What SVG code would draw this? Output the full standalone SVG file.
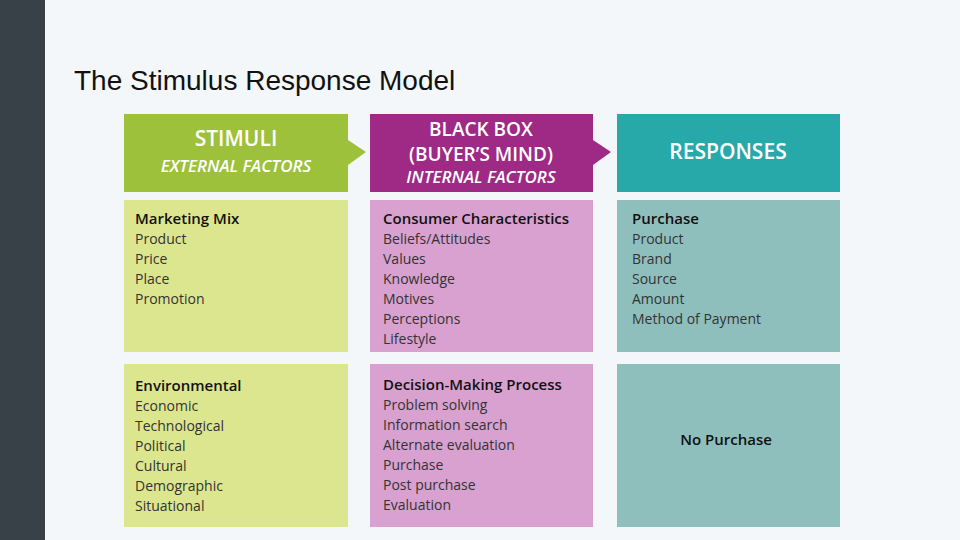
<svg xmlns="http://www.w3.org/2000/svg" width="960" height="540" viewBox="0 0 960 540">
<style>
.h{font-family:"Open Sans","Liberation Sans",sans-serif;font-weight:600;fill:#fff;text-anchor:middle}
.hi{font-style:italic;font-size:17px}
.t{font-family:"Open Sans","Liberation Sans",sans-serif;font-size:14px;fill:#333}
.b{font-weight:600;font-size:15px;fill:#111}
</style>
<rect width="960" height="540" fill="#f3f7fa"/>
<rect width="45" height="540" fill="#394148"/>
<text x="74" y="90" font-family="Liberation Sans,Arial,sans-serif" font-size="28" fill="#111">The Stimulus Response Model</text>
<g id="stimuli">
<path d="M124 114H348V140L366 152L348 165V192H124Z" fill="#9dc13a"/>
<text class="h" x="236" y="146" font-size="21">STIMULI</text>
<text class="h hi" x="236" y="172">EXTERNAL FACTORS</text>
</g>
<g id="blackbox">
<path d="M370 114H593V140L611 152L593 165V192H370Z" fill="#9e2a86"/>
<text class="h" x="481" y="136" font-size="19">BLACK BOX</text>
<text class="h" x="481" y="161" font-size="19">(BUYER’S MIND)</text>
<text class="h hi" x="481" y="183">INTERNAL FACTORS</text>
</g>
<g id="responses">
<rect x="617" y="114" width="223" height="78" fill="#27a8a9"/>
<text class="h" x="728" y="159" font-size="21">RESPONSES</text>
</g>
<g id="marketing">
<rect x="124" y="200" width="224" height="152" fill="#dce68f"/>
<text class="t" x="135" y="224"><tspan class="b">Marketing Mix</tspan><tspan x="135" dy="20">Product</tspan><tspan x="135" dy="20">Price</tspan><tspan x="135" dy="20">Place</tspan><tspan x="135" dy="20">Promotion</tspan></text>
</g>
<g id="consumer">
<rect x="370" y="200" width="223" height="152" fill="#d8a1d0"/>
<text class="t" x="383" y="224"><tspan class="b">Consumer Characteristics</tspan><tspan x="383" dy="20">Beliefs/Attitudes</tspan><tspan x="383" dy="20">Values</tspan><tspan x="383" dy="20">Knowledge</tspan><tspan x="383" dy="20">Motives</tspan><tspan x="383" dy="20">Perceptions</tspan><tspan x="383" dy="20">Lifestyle</tspan></text>
</g>
<g id="purchase">
<rect x="617" y="200" width="223" height="152" fill="#8fbfbd"/>
<text class="t" x="632" y="224"><tspan class="b">Purchase</tspan><tspan x="632" dy="20">Product</tspan><tspan x="632" dy="20">Brand</tspan><tspan x="632" dy="20">Source</tspan><tspan x="632" dy="20">Amount</tspan><tspan x="632" dy="20">Method of Payment</tspan></text>
</g>
<g id="environmental">
<rect x="124" y="364" width="224" height="163" fill="#dce68f"/>
<text class="t" x="135" y="391"><tspan class="b">Environmental</tspan><tspan x="135" dy="20">Economic</tspan><tspan x="135" dy="20">Technological</tspan><tspan x="135" dy="20">Political</tspan><tspan x="135" dy="20">Cultural</tspan><tspan x="135" dy="20">Demographic</tspan><tspan x="135" dy="20">Situational</tspan></text>
</g>
<g id="decision">
<rect x="370" y="364" width="223" height="163" fill="#d8a1d0"/>
<text class="t" x="383" y="390"><tspan class="b">Decision-Making Process</tspan><tspan x="383" dy="20">Problem solving</tspan><tspan x="383" dy="20">Information search</tspan><tspan x="383" dy="20">Alternate evaluation</tspan><tspan x="383" dy="20">Purchase</tspan><tspan x="383" dy="20">Post purchase</tspan><tspan x="383" dy="20">Evaluation</tspan></text>
</g>
<g id="nopurchase">
<rect x="617" y="364" width="223" height="163" fill="#8fbfbd"/>
<text class="t b" x="726" y="445" text-anchor="middle">No Purchase</text>
</g>
<g id="connectors"/>
</svg>
